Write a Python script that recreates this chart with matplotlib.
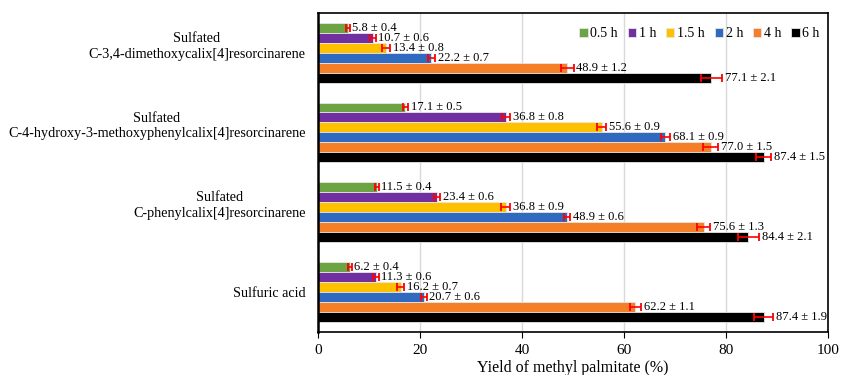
import numpy as np
import matplotlib.pyplot as plt

plt.rcParams['font.family'] = ['Liberation Serif', 'DejaVu Serif']

catalysts = ['Sulfated\nC-3,4-dimethoxycalix[4]resorcinarene',
             'Sulfated\nC-4-hydroxy-3-methoxyphenylcalix[4]resorcinarene',
             'Sulfated\nC-phenylcalix[4]resorcinarene',
             'Sulfuric acid']
times = ['0.5 h', '1 h', '1.5 h', '2 h', '4 h', '6 h']
colors = ['#6ca444', '#7030a0', '#ffc000', '#2f6ac0', '#f47f26', '#000000']

# yield per catalyst (rows) and time (columns)
yields = [[5.8, 10.7, 13.4, 22.2, 48.9, 77.1],
          [17.1, 36.8, 55.6, 68.1, 77.0, 87.4],
          [11.5, 23.4, 36.8, 48.9, 75.6, 84.4],
          [6.2, 11.3, 16.2, 20.7, 62.2, 87.4]]
errors = [[0.4, 0.6, 0.8, 0.7, 1.2, 2.1],
          [0.5, 0.8, 0.9, 0.9, 1.5, 1.5],
          [0.4, 0.6, 0.9, 0.6, 1.3, 2.1],
          [0.4, 0.6, 0.7, 0.6, 1.1, 1.9]]

yields = np.array(yields)
errors = np.array(errors)

fig = plt.figure(figsize=(8.42, 3.75), dpi=100)
ax = fig.add_axes([0.3777, 0.115, 0.6057, 0.851])

n = len(catalysts)
w = 0.125
centers = np.arange(n)[::-1]  # first catalyst on top

for j, t in enumerate(times):
    ypos = centers + (2.5 - j) * w
    ax.barh(ypos, yields[:, j], height=w, color=colors[j], edgecolor='#e6e6e6',
            linewidth=0.6, label=t, zorder=3)
    ax.errorbar(yields[:, j], ypos, xerr=errors[:, j], fmt='none', ecolor='red',
                elinewidth=1.2, capsize=3.2, capthick=1.3, zorder=4)
    for i in range(n):
        ax.annotate('%.1f ± %.1f' % (yields[i, j], errors[i, j]),
                    xy=(yields[i, j] + errors[i, j], ypos[i]), xytext=(2, 0),
                    textcoords='offset points', va='center', ha='left',
                    fontsize=9, zorder=5)

ax.set_xlim(0, 100)
ax.set_ylim(-0.5, 3.5)
ax.set_xticks(np.arange(0, 101, 20))
ax.tick_params(axis='x', labelsize=11, length=4, direction='out', pad=5)
ax.tick_params(axis='y', length=0, pad=9)
ax.xaxis.grid(True, color='#d9d9d9', linewidth=1, zorder=0)
ax.set_axisbelow(True)

# tick label is the last line; "Sulfated" goes above, centred over it
ax.set_yticks(centers)
ax.set_yticklabels([c.split('\n')[-1] for c in catalysts], fontsize=10.2)
for lab, c in zip(ax.get_yticklabels(), catalysts):
    parts = c.split('\n')
    if len(parts) > 1:
        ax.annotate(parts[0], xy=(0.5, 1.0), xycoords=lab, xytext=(0, 2),
                    textcoords='offset points', ha='center',
                    va='bottom', fontsize=10.2, annotation_clip=False)

for s in ax.spines.values():
    s.set_color('black')
    s.set_linewidth(1.2)
    s.set_zorder(6)
ax.spines['left'].set_linewidth(1.8)

ax.set_xlabel('Yield of methyl palmitate (%)', fontsize=11.5, labelpad=2)

ax.legend(loc='upper right', ncol=6, frameon=False, fontsize=10,
          handlelength=0.6, handleheight=0.6, handletextpad=0.2,
          columnspacing=0.7, borderaxespad=0.3, bbox_to_anchor=(1.003, 0.985))

fig.savefig('out.png', dpi=100)
